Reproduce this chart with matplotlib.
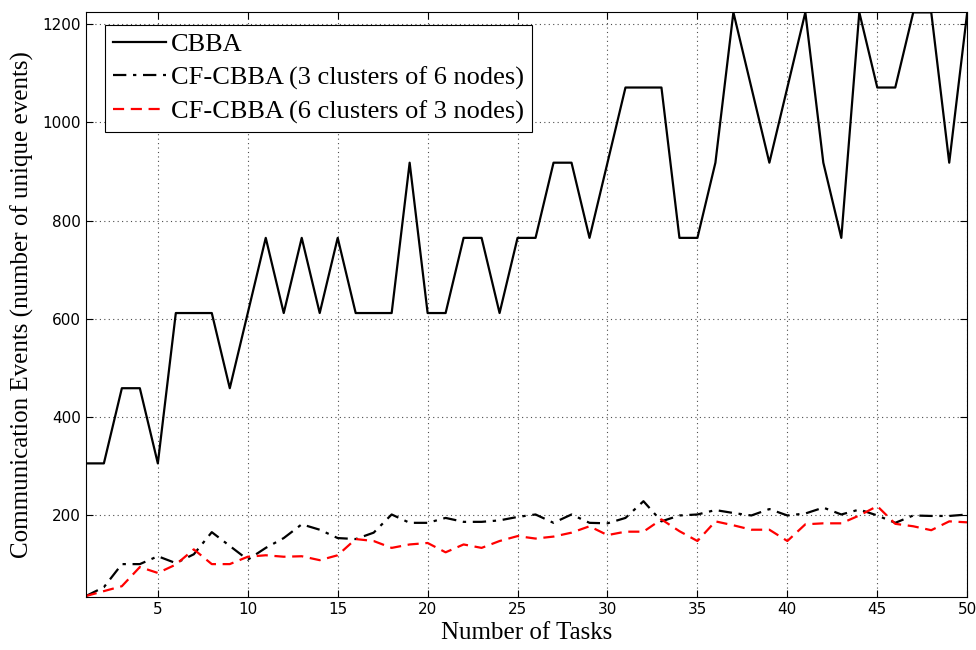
import matplotlib
matplotlib.use("Agg")
import matplotlib.pyplot as plt

tasks = list(range(1, 51))

# CBBA - livelli discreti (multipli di 153)
cbba = [306, 306, 459, 459, 306, 612, 612, 612, 459, 612,
        765, 612, 765, 612, 765, 612, 612, 612, 918, 612,
        612, 765, 765, 612, 765, 765, 918, 918, 765, 918,
        1071, 1071, 1071, 765, 765, 918, 1224, 1071, 918, 1071,
        1224, 918, 765, 1224, 1071, 1071, 1224, 1224, 918, 1224]

cf_3x6 = [36, 54, 101, 101, 117, 103, 121, 166, 138, 110,
          134, 154, 182, 171, 154, 152, 165, 202, 185, 185,
          195, 187, 187, 190, 197, 202, 185, 202, 185, 184,
          195, 229, 188, 200, 202, 211, 205, 200, 213, 200,
          204, 216, 202, 212, 200, 185, 200, 199, 199, 202]

cf_6x3 = [36, 46, 56, 95, 83, 100, 131, 101, 101, 116,
          119, 116, 117, 109, 119, 152, 148, 134, 141, 144,
          125, 141, 134, 148, 158, 153, 157, 165, 178, 160,
          167, 167, 192, 168, 148, 188, 180, 171, 171, 148,
          182, 184, 184, 200, 219, 183, 178, 170, 188, 186]

labels = ["CBBA", "CF-CBBA (3 clusters of 6 nodes)", "CF-CBBA (6 clusters of 3 nodes)"]

fig = plt.figure(figsize=(9.76, 6.5), dpi=100)
ax = fig.add_axes([0.088, 0.0815, 0.903, 0.8995])

ax.plot(tasks, cbba, color="black", linestyle="-", linewidth=1.6, label=labels[0])
ax.plot(tasks, cf_3x6, color="black", linestyle=(0, (6, 3, 1.5, 3)), linewidth=1.6, label=labels[1])
ax.plot(tasks, cf_6x3, color="red", linestyle=(0, (5, 3)), linewidth=1.6, label=labels[2])

ax.set_xlim(1, 50)
ax.set_ylim(34, 1224)
ax.set_xticks(range(5, 51, 5))
ax.set_yticks(range(200, 1201, 200))

# griglia punteggiata come in MATLAB
ax.grid(True, linestyle=(0, (1, 3)), color="black", linewidth=0.8, alpha=0.7)
ax.tick_params(direction="in", top=True, right=True, length=5, labelsize=11)
for lab in ax.get_xticklabels() + ax.get_yticklabels():
    lab.set_family("DejaVu Sans")
for sp in ax.spines.values():
    sp.set_linewidth(0.8)

serif = ["Liberation Serif", "DejaVu Serif"]
ax.set_xlabel("Number of Tasks", fontsize=18, family=serif, labelpad=4)
ax.set_ylabel("Communication Events (number of unique events)", fontsize=18, family=serif, labelpad=6)

leg = ax.legend(loc="upper left", bbox_to_anchor=(0.0216, 0.979), prop={"family": serif, "size": 19},
                frameon=True, fancybox=False, edgecolor="black", framealpha=1,
                handlelength=2.0, handletextpad=0.2, borderpad=0.3, labelspacing=0.38,
                borderaxespad=0.0)
leg.get_frame().set_linewidth(0.8)

fig.savefig("out.png", dpi=100)
